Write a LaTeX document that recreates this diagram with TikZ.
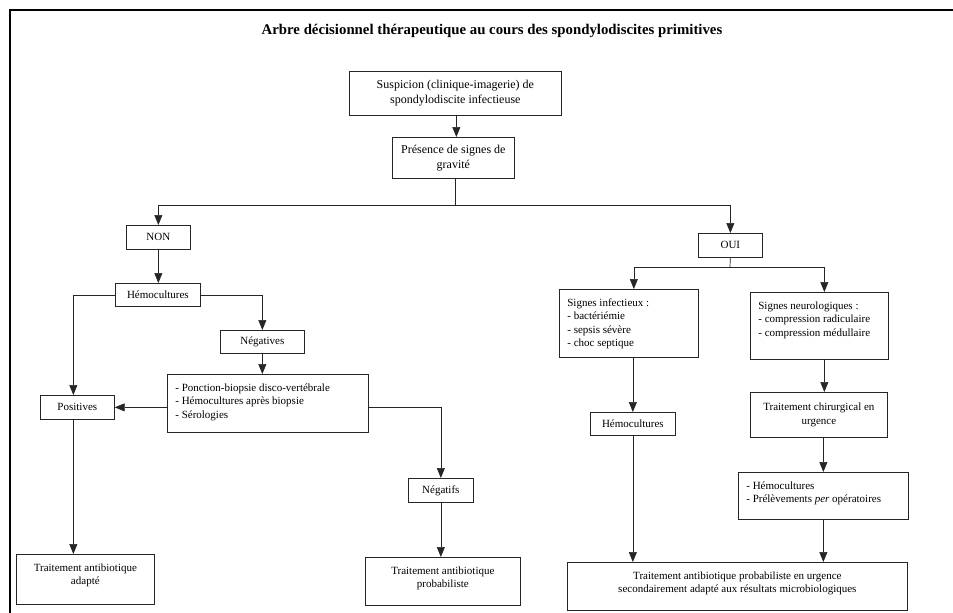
\documentclass[tikz,border=0pt]{standalone}
\usepackage{fontspec}
\setmainfont{Liberation Serif}
\usetikzlibrary{arrows.meta,calc}
\tikzset{
  boxs/.style={draw=black!85, line width=0.7pt, inner xsep=8pt, inner ysep=6pt, anchor=north west, font=\fontsize{11}{13.3}\selectfont},
  bigbox/.style={boxs, font=\fontsize{12}{15}\selectfont},
  arr/.style={draw=black!85, line width=0.7pt, -{Triangle[width=8pt,length=10pt]}},
  ln/.style={draw=black!85, line width=0.7pt},
  frame/.style={draw=black, line width=1.6pt}
}
\newcommand{\bx}[8][boxs]{\node[#1] (#2) at (#3,#4) {\parbox[c][\dimexpr#6pt-12pt\relax][#7]{\dimexpr#5pt-16pt\relax}{\if t#7\vspace*{3.5pt}\fi #8}};}
\begin{document}
\begin{tikzpicture}[x=1pt,y=-1pt]
\useasboundingbox (0,0) rectangle (953,613);
\draw[frame] (10,613) -- (10,10) -- (953,10);
\node[font=\bfseries\fontsize{14.8}{17}\selectfont] (title) at (492,31) {Arbre décisionnel thérapeutique au cours des spondylodiscites primitives};

\bx[bigbox]{b1}{349}{71}{212}{44}{c}{\centering Suspicion (clinique-imagerie) de\\ spondylodiscite infectieuse}
\bx[bigbox]{b2}{392}{137}{122}{41}{c}{\centering Présence de signes de\\ gravité}
\bx{non}{126}{225}{64}{24}{c}{\centering NON}
\bx{oui}{698}{233}{64}{24}{c}{\centering OUI}
\bx{hemoL}{115}{283}{85}{23}{c}{\centering Hémocultures}
\bx{neg}{220}{330}{84}{23}{c}{\centering Négatives}
\bx{ponc}{167}{374}{201}{58}{t}{- Ponction-biopsie disco-vertébrale\\ - Hémocultures après biopsie\\ - Sérologies}
\bx{pos}{40}{395}{74}{24}{c}{\centering Positives}
\bx{negs}{408}{478}{65}{24}{c}{\centering Négatifs}
\bx{adap}{16}{554}{138}{50}{t}{\centering Traitement antibiotique\\ adapté}
\bx{prob}{365}{557}{155}{48}{t}{\centering Traitement antibiotique\\ probabiliste}
\bx{inf}{559}{289}{139}{68}{t}{Signes infectieux :\\ - bactériémie\\ - sepsis sévère\\ - choc septique}
\bx{neu}{750}{292}{138}{67}{t}{Signes neurologiques :\\ - compression radiculaire\\ - compression médullaire}
\bx{hemoR}{590}{412}{85}{23}{c}{\centering Hémocultures}
\bx{chir}{750}{392}{137}{45}{c}{\centering Traitement chirurgical en\\ urgence}
\bx{prel}{738}{472}{170}{47}{t}{- Hémocultures\\ - Prélèvements \textit{per} opératoires}
\bx{fin}{567}{562}{340}{48}{t}{\centering Traitement antibiotique probabiliste en urgence\\ secondairement adapté aux résultats microbiologiques}

% top
\draw[arr] ([xshift=1pt]b1.south) -- ([xshift=1pt]b1.south |- b2.north);
\coordinate (sp1) at (455,205);
\draw[ln] (b2.south -| sp1) -- (sp1);
\draw[arr] (sp1) -| (non.north);
\draw[arr] (sp1) -| (oui.north);
% left
\draw[arr] (non.south) -- (non.south |- hemoL.north);
\draw[arr] (hemoL.west) -| ([xshift=-4pt]pos.north);
\draw[arr] (hemoL.east) -| (neg.north);
\draw[arr] (neg.south) -- (neg.south |- ponc.north);
\draw[arr] (ponc.west |- pos.east) -- (pos.east);
\draw[arr] (ponc.east |- pos.east) -| (negs.north);
\draw[arr] (negs.south) -- (negs.south |- prob.north);
\draw[arr] ([xshift=-4pt]pos.south) -- ([xshift=-4pt]pos.south |- adap.north);
% right
\coordinate (sp2) at (730,267);
\draw[ln] (oui.south) -- (sp2);
\draw[arr] (sp2) -| ([xshift=5pt]inf.north);
\draw[arr] (sp2) -| ([xshift=5pt]neu.north);
\draw[arr] (inf.south -| hemoR.north) -- (hemoR.north);
\draw[arr] ([xshift=5pt]neu.south) -- ([xshift=5pt]neu.south |- chir.north);
\draw[arr] (chir.south -| prel.north) -- (prel.north);
\draw[arr] (hemoR.south) -- (hemoR.south |- fin.north);
\draw[arr] (prel.south) -- (prel.south |- fin.north);
\end{tikzpicture}
\end{document}
